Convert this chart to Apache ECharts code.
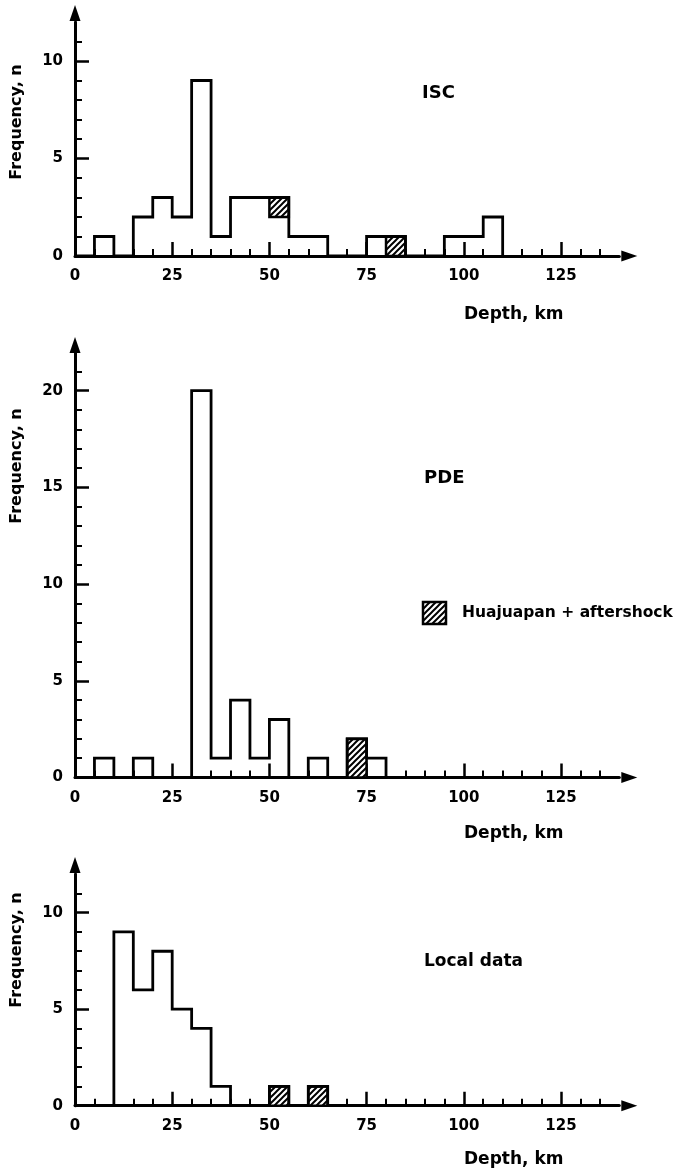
<!DOCTYPE html>
<html>
<head>
<meta charset="utf-8">
<title>Focal depth histograms</title>
<script src="https://cdn.jsdelivr.net/npm/echarts@6/dist/echarts.min.js"></script>
<style>
    html, body { margin: 0; padding: 0; background: #fff; }
    #main { width: 683px; height: 1174px; }
</style>
</head>
<body>
<div id="main"></div>
<script type="text/javascript">
    // 5 km depth bins (lower edge of each bin) and the number of events in each
    var binWidth = 5;

    var iscBins = [0, 5, 10, 15, 20, 25, 30, 35, 40, 45, 50, 55, 60, 65, 70, 75, 80, 85, 90, 95, 100, 105];
    var iscCounts = [0, 1, 0, 2, 3, 2, 9, 1, 3, 3, 3, 1, 1, 0, 0, 1, 1, 0, 0, 1, 1, 2];

    var pdeBins = [0, 5, 10, 15, 20, 25, 30, 35, 40, 45, 50, 55, 60, 65, 70, 75];
    var pdeCounts = [0, 1, 0, 1, 0, 0, 20, 1, 4, 1, 3, 0, 1, 0, 2, 1];

    var localBins = [0, 5, 10, 15, 20, 25, 30, 35, 40, 45, 50, 55, 60];
    var localCounts = [0, 0, 9, 6, 8, 5, 4, 1, 0, 0, 1, 0, 1];

    // Huajuapan + aftershock part of a bin (hatched)
    var iscHatchStart = [50, 80];
    var iscHatchBase = [2, 0];
    var iscHatchTop = [3, 1];

    var pdeHatchStart = [70];
    var pdeHatchBase = [0];
    var pdeHatchTop = [2];

    var localHatchStart = [50, 60];
    var localHatchBase = [0, 0];
    var localHatchTop = [1, 1];

    // tick labels
    var depthLabels = [0, 25, 50, 75, 100, 125];
    var iscFreqLabels = [0, 5, 10];
    var pdeFreqLabels = [0, 5, 10, 15, 20];
    var localFreqLabels = [0, 5, 10];

    var FONT = 'DejaVu Sans';
    var INK = '#000';

    // hatch pattern for the aftershock boxes
    var hatch = document.createElement('canvas');
    hatch.width = 6;
    hatch.height = 6;
    var hc = hatch.getContext('2d');
    hc.fillStyle = '#fff';
    hc.fillRect(0, 0, 6, 6);
    hc.strokeStyle = INK;
    hc.lineWidth = 2;
    hc.beginPath();
    hc.moveTo(0, 6); hc.lineTo(6, 0);
    hc.moveTo(-1, 1); hc.lineTo(1, -1);
    hc.moveTo(5, 7); hc.lineTo(7, 5);
    hc.stroke();
    var hatchFill = { image: hatch, repeat: 'repeat' };

    function stepData(bins, counts) {
        var pts = [];
        for (var i = 0; i < bins.length; i++) {
            pts.push([bins[i], counts[i]]);
        }
        pts.push([bins[bins.length - 1] + binWidth, 0]);
        return pts;
    }

    function hatchData(start, base, top) {
        var out = [];
        for (var i = 0; i < start.length; i++) {
            out.push([start[i], start[i] + binWidth, base[i], top[i]]);
        }
        return out;
    }

    function renderHatch(params, api) {
        var p0 = api.coord([api.value(0), api.value(3)]);
        var p1 = api.coord([api.value(1), api.value(2)]);
        return {
            type: 'rect',
            shape: { x: p0[0], y: p0[1], width: p1[0] - p0[0], height: p1[1] - p0[1] },
            style: { fill: hatchFill, stroke: INK, lineWidth: 2.5 }
        };
    }

    var grids = [
        { left: 75, top: 22, width: 544.3, height: 234, outerBoundsMode: 'none' },
        { left: 75, top: 352, width: 544.3, height: 425.5, outerBoundsMode: 'none' },
        { left: 75, top: 874, width: 544.3, height: 231.7, outerBoundsMode: 'none' }
    ];

    var tickFont = { color: INK, fontFamily: FONT, fontSize: 15, fontWeight: 'bold' };

    function xAxisFor(idx) {
        return {
            gridIndex: idx,
            type: 'value',
            min: 0,
            max: 140,
            interval: 25,
            axisLine: {
                lineStyle: { color: INK, width: 3 },
                symbol: ['none', 'triangle'],
                symbolSize: [11, 16],
                symbolOffset: [0, 10]
            },
            axisTick: { inside: true, length: 14, customValues: depthLabels, lineStyle: { color: INK, width: 2.5 } },
            minorTick: { show: true, splitNumber: 5, length: 7, lineStyle: { color: INK, width: 2 } },
            axisLabel: Object.assign({ customValues: depthLabels, margin: 13 }, tickFont),
            splitLine: { show: false }
        };
    }

    function yAxisFor(idx, max, labels, offset) {
        return {
            gridIndex: idx,
            type: 'value',
            min: 0,
            max: max,
            interval: 5,
            axisLine: {
                lineStyle: { color: INK, width: 3 },
                symbol: ['none', 'triangle'],
                symbolSize: [11, 16],
                symbolOffset: [0, offset]
            },
            axisTick: { inside: true, length: 14, customValues: labels, lineStyle: { color: INK, width: 2.5 } },
            minorTick: { show: true, splitNumber: 5, length: 7, lineStyle: { color: INK, width: 2 } },
            axisLabel: Object.assign({ customValues: labels, margin: 12 }, tickFont),
            splitLine: { show: false }
        };
    }

    function outline(idx, bins, counts) {
        return {
            type: 'line',
            xAxisIndex: idx,
            yAxisIndex: idx,
            step: 'end',
            symbol: 'none',
            z: 3,
            lineStyle: { color: INK, width: 2.8, join: 'miter' },
            data: stepData(bins, counts)
        };
    }

    function hatched(idx, start, base, top) {
        return {
            type: 'custom',
            xAxisIndex: idx,
            yAxisIndex: idx,
            z: 2,
            renderItem: renderHatch,
            encode: { x: [0, 1], y: [2, 3] },
            data: hatchData(start, base, top)
        };
    }

    function label(x, y, text, size, align) {
        return {
            type: 'text', x: x, y: y,
            style: {
                text: text, fill: INK, fontFamily: FONT, fontSize: size, fontWeight: 'bold',
                align: align || 'left', verticalAlign: 'middle'
            }
        };
    }

    function yTitle(y) {
        return {
            type: 'text', x: 17, y: y, rotation: Math.PI / 2,
            style: {
                text: 'Frequency, n', fill: INK, fontFamily: FONT, fontSize: 16, fontWeight: 'bold',
                align: 'center', verticalAlign: 'middle'
            }
        };
    }

    var myChart = echarts.init(document.getElementById('main'), null, { renderer: 'canvas' });

    var option = {
        backgroundColor: '#fff',
        animation: false,
        grid: grids,
        xAxis: [xAxisFor(0), xAxisFor(1), xAxisFor(2)],
        yAxis: [
            yAxisFor(0, 12, iscFreqLabels, 9),
            yAxisFor(1, 22, pdeFreqLabels, 7),
            yAxisFor(2, 12, localFreqLabels, 9)
        ],
        series: [
            hatched(0, iscHatchStart, iscHatchBase, iscHatchTop),
            outline(0, iscBins, iscCounts),
            hatched(1, pdeHatchStart, pdeHatchBase, pdeHatchTop),
            outline(1, pdeBins, pdeCounts),
            hatched(2, localHatchStart, localHatchBase, localHatchTop),
            outline(2, localBins, localCounts)
        ],
        graphic: [
            yTitle(122),
            yTitle(466),
            yTitle(950),
            label(422, 93, 'ISC', 18),
            label(424, 478, 'PDE', 18),
            label(424, 962, 'Local data', 17),
            label(464, 315, 'Depth, km', 17),
            label(464, 834, 'Depth, km', 17),
            label(464, 1160, 'Depth, km', 17),
            {
                type: 'rect',
                shape: { x: 423, y: 602, width: 23, height: 22 },
                style: { fill: hatchFill, stroke: INK, lineWidth: 2.5 }
            },
            label(462, 613, 'Huajuapan + aftershock', 15.5)
        ]
    };

    myChart.setOption(option);
</script>
</body>
</html>
